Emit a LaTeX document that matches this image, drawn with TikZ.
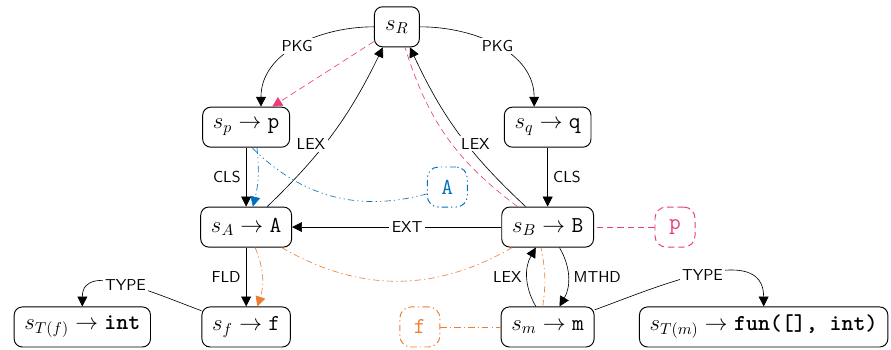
\documentclass[tikz,border=0pt]{standalone}
\usepackage{fontspec}
\usepackage{amsmath}
\usepackage{tikz}
\usetikzlibrary{arrows.meta}

\definecolor{refpink}{RGB}{233,62,122}
\definecolor{refblue}{RGB}{0,114,189}
\definecolor{reforange}{RGB}{237,125,49}

\begin{document}
\begin{tikzpicture}[
    >={Triangle[length=2.2mm,width=2.2mm]},
    sc/.style={draw, line width=0.6pt, rounded corners=0.18cm, font=\Large,
      minimum height=0.89cm, minimum width=1cm, inner xsep=6.5pt},
    refbox/.style={draw, line width=0.6pt, rounded corners=0.25cm, font=\Large,
      minimum size=0.89cm, inner sep=0pt},
    lbl/.style={font=\sffamily, fill=white, inner sep=1.5pt},
    side/.style={font=\sffamily},
    pinkpath/.style={draw=refpink, dash pattern=on 4pt off 2.5pt},
    bluepath/.style={draw=refblue, dash pattern=on 4pt off 2pt on 0.8pt off 2pt on 0.8pt off 2pt},
    orangepath/.style={draw=reforange, dash pattern=on 4pt off 2pt on 0.8pt off 2pt}
  ]
    \useasboundingbox (0,0) rectangle (19.8,7.756);

    \node[sc] (sR) at (8.82,7.16) {$s_R$};
    \node[sc] (sp) at (5.47,4.93) {$s_p \to \texttt{p}$};
    \node[sc] (sq) at (12.17,4.93) {$s_q \to \texttt{q}$};
    \node[sc] (sA) at (5.47,2.71) {$s_A \to \texttt{A}$};
    \node[sc] (sB) at (12.17,2.71) {$s_B \to \texttt{B}$};
    \node[sc] (sf) at (5.47,0.49) {$s_f \to \texttt{f}$};
    \node[sc] (sm) at (12.17,0.49) {$s_m \to \texttt{m}$};
    \node[sc] (sTf) at (1.83,0.49) {$s_{T(f)} \to \textbf{\texttt{int}}$};
    \node[sc] (sTm) at (16.97,0.49) {$s_{T(m)} \to \textbf{\texttt{fun([], int)}}$};

    \node[refbox, draw=refblue, text=refblue,
      dash pattern=on 4pt off 2pt on 0.8pt off 2pt on 0.8pt off 2pt] (rA) at (9.94,3.6) {\texttt{A}};
    \node[refbox, draw=refpink, text=refpink, dash pattern=on 4pt off 2.5pt] (rp) at (15.0,2.71) {\texttt{p}};
    \node[refbox, draw=reforange, text=reforange,
      dash pattern=on 4pt off 2pt on 0.8pt off 2pt] (rf) at (9.33,0.49) {\texttt{f}};

    \draw[->] (sR.west) to[out=180,in=90] node[lbl] {PKG} ([xshift=0.33cm]sp.north);
    \draw[->] (sR.east) to[out=0,in=90] node[lbl] {PKG} ([xshift=-0.3cm]sq.north);
    \draw[->] ([xshift=0.47cm]sA.north) to[bend right=10]
      node[lbl, pos=0.42, xshift=-0.3cm] {LEX} ([xshift=-0.31cm]sR.south);
    \draw[->] ([xshift=-0.49cm]sB.north) to[bend left=11]
      node[lbl, pos=0.43, xshift=0.2cm] {LEX} ([xshift=0.29cm]sR.south);
    \draw[->] (sp) -- node[side, left] {CLS} (sA);
    \draw[->] (sq) -- node[side, right] {CLS} (sB);
    \draw[->] (sB) -- node[lbl, pos=0.45] {EXT} (sA);
    \draw[->] (sA) -- node[side, left] {FLD} (sf);
    \draw[->] (sB) to[bend left=30] node[side, right] {MTHD} (sm);
    \draw[->] (sm) to[bend left=30] node[side, left] {LEX} (sB);
    \draw[->] (sf) to[out=160,in=90] node[lbl] {TYPE} (sTf);
    \draw[->] (sm) to[out=20,in=90] node[lbl] {TYPE} (sTm);

    % resolution of p
    \draw[pinkpath] (rp) -- (sB);
    \draw[pinkpath] ([xshift=-0.67cm]sB.north) to[bend left=18] ([xshift=0.18cm]sR.south);
    \draw[pinkpath, ->] (sR) -- ([xshift=0.58cm]sp.north);

    % resolution of A
    \draw[bluepath] (rA) to[bend left=30] ([xshift=0.13cm]sp.south);
    \draw[bluepath, ->] ([xshift=0.24cm]sp.south) to[bend left=10] ([xshift=0.15cm]sA.north);

    % resolution of f
    \draw[orangepath] (rf) -- (sm);
    \draw[orangepath] ([xshift=-0.11cm]sm.north) to[bend right=10] ([xshift=-0.15cm]sB.south);
    \draw[orangepath] (sB) to[bend left=30] (sA);
    \draw[orangepath, ->] ([xshift=0.2cm]sA.south) to[bend left=20] ([xshift=0.25cm]sf.north);
  \end{tikzpicture}
\end{document}
